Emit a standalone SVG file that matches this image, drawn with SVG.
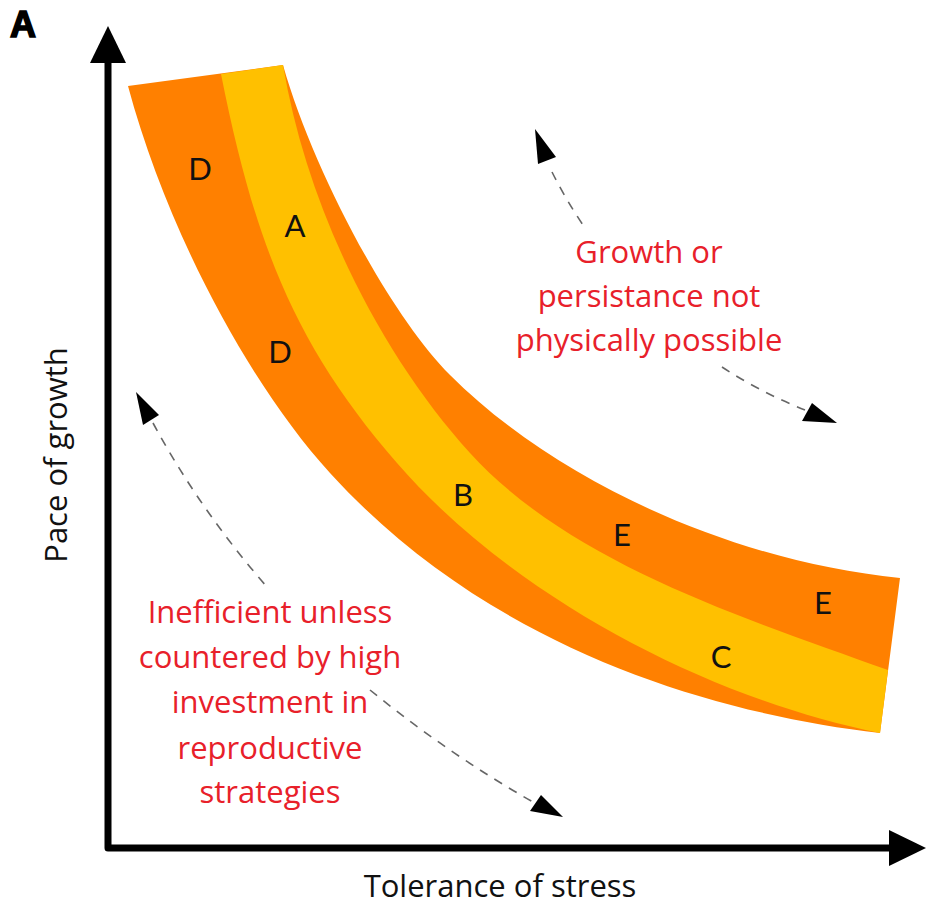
<svg xmlns="http://www.w3.org/2000/svg" width="927" height="905" viewBox="0 0 927 905">
  <style>
    .band-outer { fill: #FF8000; }
    .band-core { fill: #FFC000; }
    .zone { font-family: Lato, "Open Sans", sans-serif; font-size: 31px; fill: #111; text-anchor: middle; }
    .note { font-family: "Open Sans", Lato, sans-serif; font-size: 31px; fill: #E8202A; text-anchor: middle; }
    .axis-label { font-family: "Open Sans", "Noto Sans", sans-serif; font-size: 31px; fill: #111; text-anchor: middle; }
    .axis { fill: none; stroke: #000; stroke-width: 7; stroke-linejoin: round; }
    .dash { fill: none; stroke: #666; stroke-width: 1.6; stroke-dasharray: 9 8; }
    .head { fill: #000; }
  </style>

  <!-- panel letter -->
  <text x="10" y="37" font-family="Liberation Sans, Arial, sans-serif" font-size="36" font-weight="bold" fill="#000" stroke="#000" stroke-width="1.6">A</text>

  <!-- trade-off band: full orange strip, yellow core on top -->
  <g id="band">
    <path id="band-full" class="band-outer" d="M128,86 L283,65 C313,171 390,315 450,375 C556,481 731,561 900,578 L880,733 C701,712 485,643 330,473 C249,384 167,231 128,86 Z"/>
    <path id="band-core" class="band-core" d="M221,74 L283,65 C308,213 383,357 470,453 C571,564 747,619 888,670 L880,733 C713,700 515,599 397,463 C299,350 256,251 221,74 Z"/>
  </g>

  <!-- zone letters -->
  <g id="zone-labels">
    <text class="zone" x="200" y="180">D</text>
    <text class="zone" x="295" y="237">A</text>
    <text class="zone" x="280" y="363">D</text>
    <text class="zone" x="463" y="506">B</text>
    <text class="zone" x="622" y="546">E</text>
    <text class="zone" x="823" y="614">E</text>
    <text class="zone" x="721" y="668">C</text>
  </g>

  <!-- annotations -->
  <g id="note-upper">
    <text class="note" x="649" y="263">Growth or</text>
    <text class="note" x="649" y="307">persistance not</text>
    <text class="note" x="649" y="351">physically possible</text>
  </g>
  <g id="note-lower">
    <text class="note" x="270" y="623">Inefficient unless</text>
    <text class="note" x="270" y="668">countered by high</text>
    <text class="note" x="270" y="713">investment in</text>
    <text class="note" x="270" y="759">reproductive</text>
    <text class="note" x="270" y="803">strategies</text>
  </g>

  <!-- dashed direction arrows -->
  <g id="connectors">
    <path class="dash" d="M552,172 Q566,200 585,228"/>
    <path class="dash" d="M722,367 Q760,392 805,410"/>
    <path class="dash" d="M153,423 Q200,510 267,587"/>
    <path class="dash" d="M370,690 Q450,755 533,802"/>
    <polygon class="head" points="535,129 538,164 556,157"/>
    <polygon class="head" points="837,423 802,421 812,403"/>
    <polygon class="head" points="136,392 143,425 159,415"/>
    <polygon class="head" points="563,817 530,811 541,795"/>
  </g>

  <!-- axes -->
  <g id="axes">
    <path class="axis" d="M108,58 V848 H892"/>
    <polygon class="head" points="108,26 90,63 126,63"/>
    <polygon class="head" points="926,848 889,830 889,866"/>
    <text class="axis-label" x="500" y="897">Tolerance of stress</text>
    <text class="axis-label" transform="translate(67,455) rotate(-90)" x="0" y="0">Pace of growth</text>
  </g>
</svg>
